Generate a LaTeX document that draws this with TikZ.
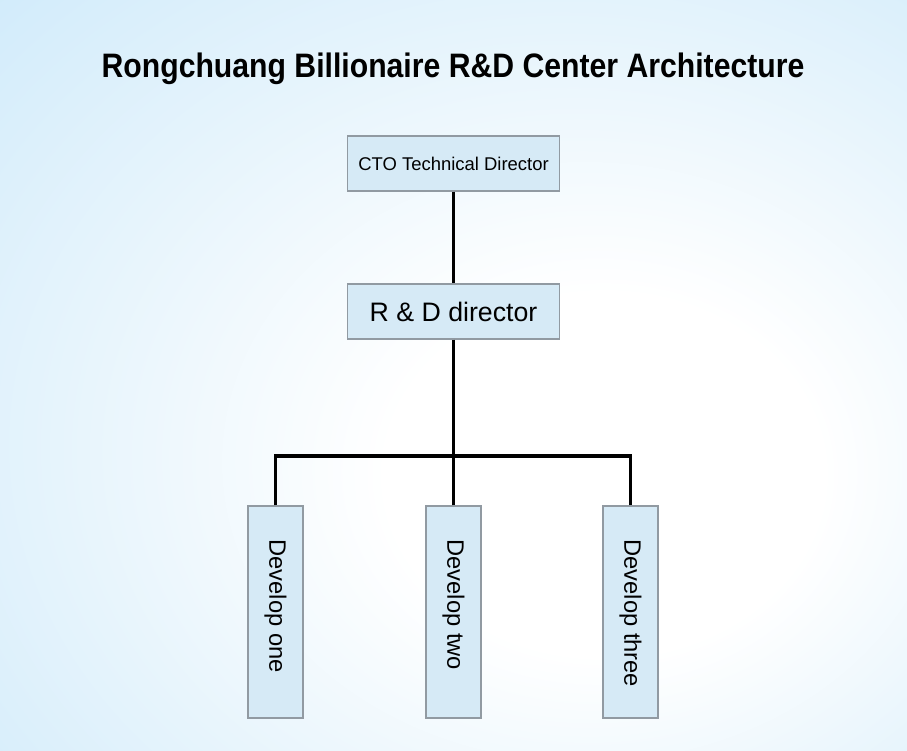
\documentclass[tikz,border=0pt]{standalone}
\usepackage{fontspec}
\setmainfont{Liberation Sans}
\usetikzlibrary{positioning}
\definecolor{azulcaja}{RGB}{214,234,246}
\definecolor{griscaja}{RGB}{145,154,162}
\definecolor{celesteA}{RGB}{230,244,252}
\definecolor{celesteB}{RGB}{204,233,250}
\definecolor{celesteC}{RGB}{170,221,246}
\pgfdeclareradialshading{fondo}{\pgfpoint{10bp}{-8bp}}{color(0bp)=(white); color(12bp)=(white); color(28bp)=(celesteA); color(45bp)=(celesteB); color(72bp)=(celesteC)}
\tikzset{
  caja/.style={rectangle, draw=griscaja, line width=0.6pt, fill=azulcaja,
    inner sep=0pt, align=center},
  cajah/.style={caja, minimum width=4.24cm, minimum height=1.1cm},
  cajav/.style={caja, minimum width=1.1cm, minimum height=4.24cm,
    font=\fontsize{13.5}{16}\selectfont},
  linea/.style={line width=2.1pt, black},
}

\begin{document}
\begin{tikzpicture}
    % fondo
    \shade[shading=fondo] (0,0) rectangle (18.14,15);
    \useasboundingbox (0,0) rectangle (18.14,15);
    % titulo
    \node[anchor=base] (titulo) at (9.06,13.44)
      {\fontsize{19.3}{22}\selectfont\bfseries\scalebox{0.89}[1]{Rongchuang Billionaire R\&D Center Architecture}};
    % cajas
    \node[cajah, font=\fontsize{10.5}{12}\selectfont] (cto) at (9.07,11.73) {CTO Technical Director};
    \node[cajah, font=\fontsize{15.2}{18}\selectfont] (idi) at (9.07,8.77) {R \& D director};
    \foreach \x/\n/\nombre in {5.51/1/one, 9.07/2/two, 12.61/3/three}{
      \node[cajav] (dev\n) at (\x,2.76) {\rotatebox{-90}{\makebox[2.9cm][l]{Develop \nombre}}};
    }
    % lineas
    \coordinate (rama) at (9.07,5.88);
    \draw[linea] (cto) -- (idi);
    \draw[linea] (idi) -- (rama);
    \foreach \n in {1,2,3}
      \draw[linea] (dev\n.north) |- (rama);
\end{tikzpicture}
\end{document}
